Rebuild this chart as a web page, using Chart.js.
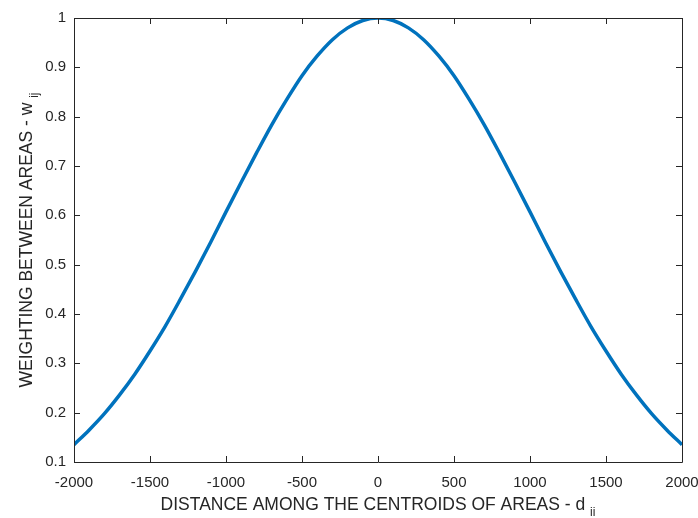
<!DOCTYPE html>
<html>
<head>
<meta charset="utf-8">
<script src="https://cdn.jsdelivr.net/npm/chart.js@4"></script>
<style>
  html, body { margin: 0; padding: 0; background: #ffffff; }
  #wrap { width: 698px; height: 518px; }
</style>
</head>
<body>
<div id="wrap"><canvas id="weight-chart" width="698" height="518"></canvas></div>
<script>
// Distance between centroids (x) and the weighting (y)
const distances = [
  -2000, -1900, -1800, -1700, -1600, -1500, -1400, -1300, -1200, -1100,
  -1000, -900, -800, -700, -600, -500, -400, -300, -200, -100,
  0, 100, 200, 300, 400, 500, 600, 700, 800, 900,
  1000, 1100, 1200, 1300, 1400, 1500, 1600, 1700, 1800, 1900, 2000
];
const weights = [
  0.135, 0.165, 0.198, 0.236, 0.278, 0.325, 0.375, 0.430, 0.487, 0.546,
  0.607, 0.667, 0.726, 0.783, 0.835, 0.883, 0.923, 0.956, 0.980, 0.995,
  1.000, 0.995, 0.980, 0.956, 0.923, 0.883, 0.835, 0.783, 0.726, 0.667,
  0.607, 0.546, 0.487, 0.430, 0.375, 0.325, 0.278, 0.236, 0.198, 0.165, 0.135
];
const xTicks = [-2000, -1500, -1000, -500, 0, 500, 1000, 1500, 2000];
const yTicks = [0.1, 0.2, 0.3, 0.4, 0.5, 0.6, 0.7, 0.8, 0.9, 1];

const xTitle = 'DISTANCE AMONG THE CENTROIDS OF AREAS - d';
const xTitleSub = 'ii';
const yTitle = 'WEIGHTING BETWEEN AREAS - w';
const yTitleSub = 'ij';

const axisColor = '#262626';
const fontFamily = '"Liberation Sans", Arial, Helvetica, sans-serif';

// Box around the plot with ticks pointing inwards (MATLAB style)
const boxTicks = {
  id: 'boxTicks',
  afterDraw(chart) {
    const ctx = chart.ctx;
    const a = chart.chartArea;
    const xs = chart.scales.x;
    const ys = chart.scales.y;
    const len = 6;
    ctx.save();
    ctx.strokeStyle = axisColor;
    ctx.lineWidth = 1;
    ctx.beginPath();
    ctx.rect(a.left + 0.5, a.top + 0.5, a.right - a.left, a.bottom - a.top);
    xTicks.forEach(v => {
      const px = Math.round(xs.getPixelForValue(v)) + 0.5;
      ctx.moveTo(px, a.bottom);
      ctx.lineTo(px, a.bottom - len);
      ctx.moveTo(px, a.top);
      ctx.lineTo(px, a.top + len);
    });
    yTicks.forEach(v => {
      const py = Math.round(ys.getPixelForValue(v)) + 0.5;
      ctx.moveTo(a.left, py);
      ctx.lineTo(a.left + len, py);
      ctx.moveTo(a.right, py);
      ctx.lineTo(a.right - len, py);
    });
    ctx.stroke();
    ctx.restore();
  }
};

// Axis titles with subscripts
const axisTitles = {
  id: 'axisTitles',
  afterDraw(chart) {
    const ctx = chart.ctx;
    const a = chart.chartArea;
    const mainFont = '17.5px ' + fontFamily;
    const subFont = '12px ' + fontFamily;
    ctx.save();
    ctx.fillStyle = axisColor;
    ctx.textBaseline = 'alphabetic';
    ctx.textAlign = 'left';

    // x title
    ctx.font = mainFont;
    let w1 = ctx.measureText(xTitle + ' ').width;
    ctx.font = subFont;
    let w2 = ctx.measureText(xTitleSub).width;
    let start = (a.left + a.right) / 2 - (w1 + w2) / 2;
    const xBase = 510;
    ctx.font = mainFont;
    ctx.fillText(xTitle, start, xBase);
    ctx.font = subFont;
    ctx.fillText(xTitleSub, start + w1, xBase + 6);

    // y title (rotated)
    ctx.font = mainFont;
    w1 = ctx.measureText(yTitle + ' ').width;
    ctx.font = subFont;
    w2 = ctx.measureText(yTitleSub).width;
    ctx.translate(32, (a.top + a.bottom) / 2);
    ctx.rotate(-Math.PI / 2);
    start = -(w1 + w2) / 2;
    ctx.font = mainFont;
    ctx.fillText(yTitle, start, 0);
    ctx.font = subFont;
    ctx.fillText(yTitleSub, start + w1, 6);
    ctx.restore();
  }
};

new Chart(document.getElementById('weight-chart'), {
  type: 'line',
  data: {
    datasets: [{
      data: distances.map((d, i) => ({ x: d, y: weights[i] })),
      borderColor: '#0072BD',
      borderWidth: 3.5,
      pointRadius: 0,
      fill: false,
      cubicInterpolationMode: 'monotone'
    }]
  },
  options: {
    responsive: false,
    animation: false,
    layout: { padding: { top: 18, right: 16, left: 0, bottom: 0 } },
    plugins: {
      legend: { display: false },
      tooltip: { enabled: false }
    },
    scales: {
      x: {
        type: 'linear',
        min: -2000,
        max: 2000,
        grid: { display: false, tickLength: 0 },
        border: { display: false },
        afterBuildTicks: s => { s.ticks = xTicks.map(v => ({ value: v })); },
        ticks: {
          color: axisColor,
          font: { family: fontFamily, size: 15 },
          padding: 12,
          maxRotation: 0,
          callback: v => String(v)
        },
        afterFit: s => {
          s.height = 56;
          s.paddingLeft = 0;
          s.paddingRight = 0;
        }
      },
      y: {
        min: 0.1,
        max: 1,
        grid: { display: false, tickLength: 0 },
        border: { display: false },
        afterBuildTicks: s => { s.ticks = yTicks.map(v => ({ value: v })); },
        ticks: {
          color: axisColor,
          font: { family: fontFamily, size: 15 },
          padding: 8,
          callback: v => String(Number(v.toFixed(1)))
        },
        afterFit: s => {
          s.width = 74;
          s.paddingTop = 0;
          s.paddingBottom = 0;
        }
      }
    }
  },
  plugins: [boxTicks, axisTitles]
});
</script>
</body>
</html>
